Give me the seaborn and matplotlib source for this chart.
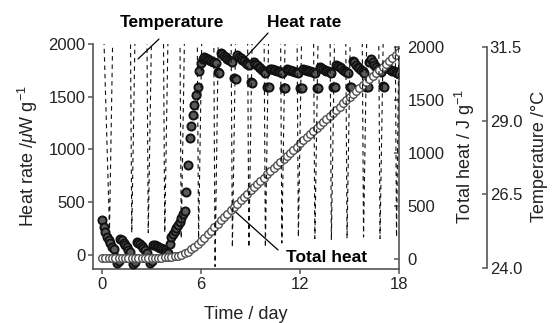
import numpy as np
import pandas as pd
import seaborn as sns
import matplotlib
matplotlib.use("Agg")
import matplotlib.pyplot as plt

# heat rate, one reading every 0.1 day (uW g-1), one row per day
hr_time = np.round(np.arange(0, 181) * 0.1, 1)
heat_rate = [
    330, 265, 215, 175, 140, 110, 80, 55, -20, -75,          # day 0
    -60, 150, 140, 115, 95, 75, 50, 25, -40, -90,            # day 1
    -70, 125, 115, 100, 85, 65, 45, 20, -30, -80,            # day 2
    -60, 95, 90, 85, 78, 70, 62, 55, 45, 30,                 # day 3
    20, 100, 170, 200, 225, 255, 285, 315, 350, 385,         # day 4
    420, 600, 850, 1110, 1220, 1330, 1420, 1520, 1590, 1740,  # day 5
    1820, 1860, 1877, 1870, 1860, 1850, 1840, 1830, 1825, 1820,  # day 6
    1735, 1725, 1915, 1905, 1890, 1875, 1860, 1850, 1840, 1830,  # day 7
    1680, 1670, 1896, 1880, 1865, 1850, 1835, 1820, 1810, 1800,  # day 8
    1640, 1630, 1830, 1815, 1800, 1785, 1770, 1755, 1740, 1725,  # day 9
    1595, 1590, 1765, 1760, 1755, 1750, 1745, 1740, 1730, 1725,  # day 10
    1585, 1580, 1760, 1755, 1750, 1745, 1740, 1735, 1730, 1725,  # day 11
    1585, 1580, 1760, 1755, 1750, 1745, 1740, 1735, 1730, 1725,  # day 12
    1585, 1580, 1785, 1775, 1765, 1755, 1745, 1740, 1730, 1725,  # day 13
    1595, 1590, 1805, 1795, 1780, 1770, 1755, 1745, 1735, 1725,  # day 14
    1595, 1590, 1840, 1825, 1805, 1785, 1770, 1755, 1740, 1725,  # day 15
    1595, 1590, 1830, 1860, 1830, 1800, 1780, 1760, 1745, 1735,  # day 16
    1600, 1595, 1780, 1770, 1760, 1750, 1745, 1740, 1730, 1725,  # day 17
    1720,
]

# total heat, one reading every 0.2 day (J g-1)
th_time = np.round(np.arange(0, 91) * 0.2, 1)
total_heat = [
    8, 8, 9, 9, 9,
    10, 10, 10, 11, 11,
    11, 12, 12, 12, 13,
    13, 13, 14, 14, 15,
    17, 20, 26, 33, 42,
    55, 70, 90, 112, 138,
    168, 200, 233, 266, 299,
    332, 364, 396, 428, 460,
    492, 523, 554, 585, 616,
    647, 678, 708, 738, 768,
    798, 828, 858, 887, 916,
    945, 974, 1003, 1032, 1061,
    1090, 1119, 1148, 1177, 1206,
    1235, 1264, 1293, 1322, 1351,
    1380, 1409, 1438, 1467, 1496,
    1525, 1554, 1583, 1612, 1641,
    1670, 1699, 1728, 1757, 1786,
    1815, 1843, 1871, 1899, 1927,
    1955,
]

# temperature record (deg C): plateau above the axis, daily cold dip
temp_time = [
    0.10, 0.45, 0.65,
    1.72, 1.80, 2.00,
    2.72, 2.80, 3.00,
    3.72, 3.80, 4.00,
    4.72, 4.80, 5.00,
    5.77, 5.85, 6.05,
    6.77, 6.85, 7.05,
    7.82, 7.90, 8.10,
    8.82, 8.90, 9.10,
    9.82, 9.90, 10.10,
    10.82, 10.90, 11.10,
    11.82, 11.90, 12.10,
    12.82, 12.90, 13.10,
    13.82, 13.90, 14.10,
    14.77, 14.85, 15.05,
    15.77, 15.85, 16.05,
    16.77, 16.85, 17.05,
    17.77, 17.85, 18.00,
]
temp_value = [
    32.0, 25.3, 32.0,
    32.0, 25.2, 32.0,
    32.0, 25.2, 32.0,
    32.0, 25.2, 32.0,
    32.0, 25.0, 32.0,
    32.0, 25.0, 32.0,
    32.0, 24.05, 32.0,
    32.0, 24.7, 32.0,
    32.0, 24.7, 32.0,
    32.0, 24.7, 32.0,
    32.0, 24.85, 32.0,
    32.0, 25.05, 32.0,
    32.0, 25.0, 32.0,
    32.0, 24.95, 32.0,
    32.0, 25.0, 32.0,
    32.0, 25.05, 32.0,
    32.0, 25.0, 32.0,
    32.0, 25.05, 32.0,
]

sns.set_theme(style="ticks")
plt.rcParams['font.family'] = ['Liberation Sans', 'DejaVu Sans']
plt.rcParams['mathtext.fontset'] = 'custom'
plt.rcParams['mathtext.rm'] = 'Liberation Sans'
plt.rcParams['mathtext.it'] = 'Liberation Sans:italic'

spine_col = '#555555'
text_col = '#222222'

fig = plt.figure(figsize=(5.52, 3.23), dpi=100)
ax = fig.add_axes([93 / 552, 1 - 269 / 323, 306 / 552, 225 / 323])
ax2 = ax.twinx()
ax3 = ax.twinx()

df_hr = pd.DataFrame({'time': hr_time, 'rate': heat_rate})
df_th = pd.DataFrame({'time': th_time, 'heat': total_heat})
df_t = pd.DataFrame({'time': temp_time, 'temp': temp_value})

sns.scatterplot(data=df_hr, x='time', y='rate', ax=ax, s=34, color='#5a5a5a',
                edgecolor='#111111', linewidth=1.4, zorder=3, legend=False)
sns.scatterplot(data=df_th, x='time', y='heat', ax=ax2, s=30, color='white',
                edgecolor='#505050', linewidth=1.0, zorder=3, legend=False)
sns.lineplot(data=df_t, x='time', y='temp', ax=ax3, color='#111111', lw=0.8,
             sort=False, estimator=None, legend=False)
ax3.lines[0].set_dashes((4.0, 3.5))

ax.set_xlim(-0.55, 18)
ax.set_ylim(-133, 2000)
ax2.set_ylim(-94, 2028)
ax3.set_ylim(23.966, 31.6)

ax.set_xticks([0, 6, 12, 18])
ax.set_yticks([0, 500, 1000, 1500, 2000])
ax2.set_yticks([0, 500, 1000, 1500, 2000])
ax3.set_yticks([24.0, 26.5, 29.0, 31.5])
ax3.set_yticklabels(['24.0', '26.5', '29.0', '31.5'])

for a in (ax, ax2, ax3):
    for s in a.spines.values():
        s.set_color(spine_col)
        s.set_linewidth(1.2)
    a.spines['top'].set_visible(False)
    a.set_xlabel('')
    a.set_ylabel('')

ax.spines['right'].set_visible(False)
ax2.spines['left'].set_visible(False)
ax2.spines['bottom'].set_visible(False)
ax3.spines['left'].set_visible(False)
ax3.spines['bottom'].set_visible(False)
ax2.spines['right'].set_bounds(-94, 2000)
ax3.spines['right'].set_position(('axes', 394 / 306))
ax3.spines['right'].set_bounds(24.0, 31.5)

ax.tick_params(direction='out', length=3.5, width=1.1, color=spine_col,
               labelsize=12, labelcolor=text_col, pad=2)
ax2.tick_params(direction='in', length=3.5, width=1.1, color=spine_col,
                labelsize=12, labelcolor=text_col, pad=6)
ax3.tick_params(direction='in', length=3.5, width=1.1, color=spine_col,
                labelsize=12, labelcolor=text_col, pad=2)

ax.set_xlabel('Time / day', fontsize=13, color=text_col, labelpad=10)
ax.set_ylabel('Heat rate /$\\mathit{\\mu}$W g$^{-1}$', fontsize=13, color=text_col, labelpad=6)
ax2.set_ylabel('Total heat / J g$^{-1}$', fontsize=13, color=text_col, labelpad=6)
ax3.set_ylabel('Temperature /°C', fontsize=13, color=text_col, labelpad=6)

# call-out labels with leader lines
line_kw = dict(arrowstyle='-', color='black', lw=0.9, shrinkA=0, shrinkB=0)
ax.text(4.24, 2208, 'Temperature', ha='center', va='center', fontsize=12.5,
        fontweight='bold', color='black', clip_on=False)
ax.annotate('', xy=(2.18, 1858), xytext=(3.45, 2047), arrowprops=line_kw,
            annotation_clip=False)
ax.text(12.24, 2208, 'Heat rate', ha='center', va='center', fontsize=12.5,
        fontweight='bold', color='black', clip_on=False)
ax.annotate('', xy=(8.67, 1867), xytext=(10.06, 2104), arrowprops=line_kw,
            annotation_clip=False)
ax.text(13.58, -28, 'Total heat', ha='center', va='center', fontsize=12.5,
        fontweight='bold', color='black', zorder=5)
ax.annotate('', xy=(7.76, 455), xytext=(10.67, 47), arrowprops=line_kw)

fig.savefig('out.png', dpi=100)
